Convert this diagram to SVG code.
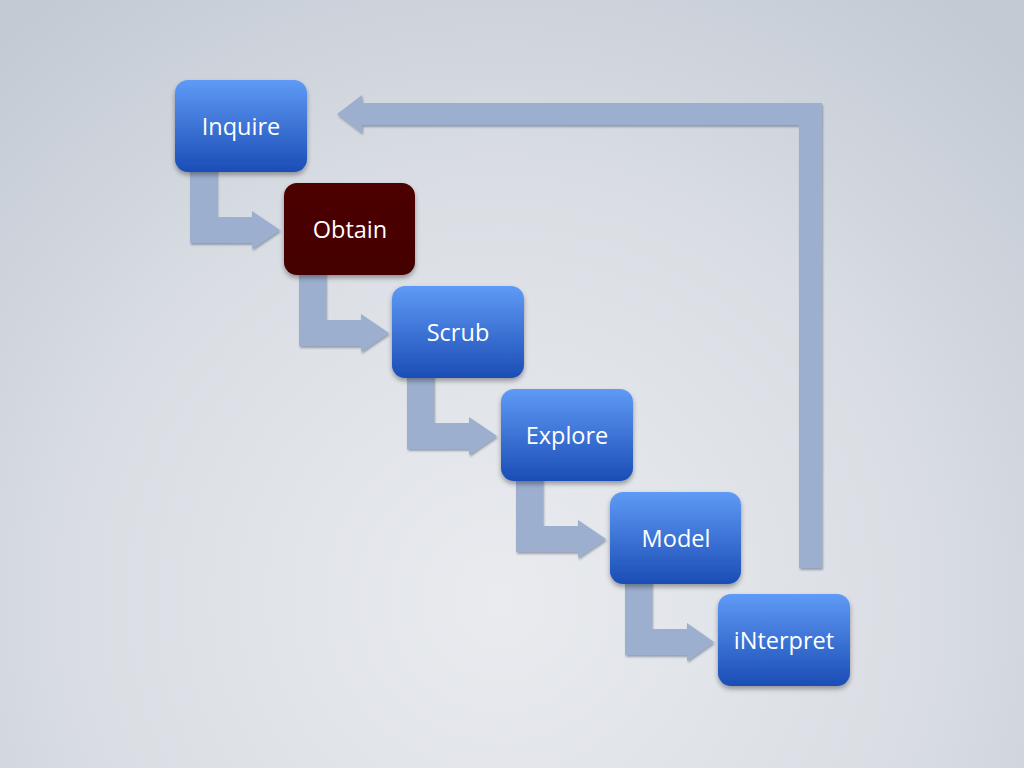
<svg xmlns="http://www.w3.org/2000/svg" width="1024" height="768" viewBox="0 0 1024 768">
<defs>
<radialGradient id="bg" cx="500" cy="600" r="750" gradientUnits="userSpaceOnUse">
<stop offset="0" stop-color="#e9ebef"/>
<stop offset="0.55" stop-color="#dadee4"/>
<stop offset="1" stop-color="#c3cad4"/>
</radialGradient>
<linearGradient id="blue" x1="0" y1="0" x2="0" y2="1">
<stop offset="0" stop-color="#5f9af6"/>
<stop offset="1" stop-color="#1b4db5"/>
</linearGradient>
<linearGradient id="maroon" x1="0" y1="0" x2="0" y2="1">
<stop offset="0" stop-color="#4e0000"/>
<stop offset="1" stop-color="#440000"/>
</linearGradient>
<filter id="sh" x="-20%" y="-20%" width="140%" height="150%">
<feDropShadow dx="0" dy="3" stdDeviation="2.5" flood-color="#000" flood-opacity="0.35"/>
</filter>
<filter id="ash" x="-10%" y="-10%" width="120%" height="130%">
<feDropShadow dx="1" dy="2" stdDeviation="1" flood-color="#3a4a66" flood-opacity="0.45"/>
</filter>
</defs>
<style>
.box{stroke:none;filter:url(#sh)}
.b{fill:url(#blue)}
.m{fill:url(#maroon)}
.lbl{font-family:"Open Sans","Noto Sans","Liberation Sans",sans-serif;font-size:23.5px;fill:#ffffff;text-anchor:middle;dominant-baseline:central}
.arr{fill:#9cafcf;filter:url(#ash)}
</style>
<rect width="1024" height="768" fill="url(#bg)"/>
<g id="connectors">
<path class="arr" d="M190 168 H217 V217 H252 V211 L280 230 L252 249 V243 H190 Z"/>
<path class="arr" d="M299 271 H326 V320 H361 V314 L389 333 L361 352 V346 H299 Z"/>
<path class="arr" d="M407 374 H434 V423 H469 V417 L497 436 L469 455 V449 H407 Z"/>
<path class="arr" d="M516 477 H543 V526 H578 V520 L606 539 L578 558 V552 H516 Z"/>
<path class="arr" d="M625 580 H652 V629 H687 V623 L714 642 L687 661 V655 H625 Z"/>
<path class="arr" d="M799 568 V125 H362 V133 L337 114 L362 95 V103 H822 V568 Z"/>
</g>
<g id="inquire">
<rect class="box b" x="175" y="80" width="132" height="92" rx="13"/>
<text class="lbl" x="241" y="126">Inquire</text>
</g>
<g id="obtain">
<rect class="box m" x="284" y="183" width="131" height="92" rx="13"/>
<text class="lbl" x="350" y="229">Obtain</text>
</g>
<g id="scrub">
<rect class="box b" x="392" y="286" width="132" height="92" rx="13"/>
<text class="lbl" x="458" y="332">Scrub</text>
</g>
<g id="explore">
<rect class="box b" x="501" y="389" width="132" height="92" rx="13"/>
<text class="lbl" x="567" y="435">Explore</text>
</g>
<g id="model">
<rect class="box b" x="610" y="492" width="131" height="92" rx="13"/>
<text class="lbl" x="676" y="538">Model</text>
</g>
<g id="interpret">
<rect class="box b" x="718" y="594" width="132" height="92" rx="13"/>
<text class="lbl" x="784" y="640">iNterpret</text>
</g>
</svg>
